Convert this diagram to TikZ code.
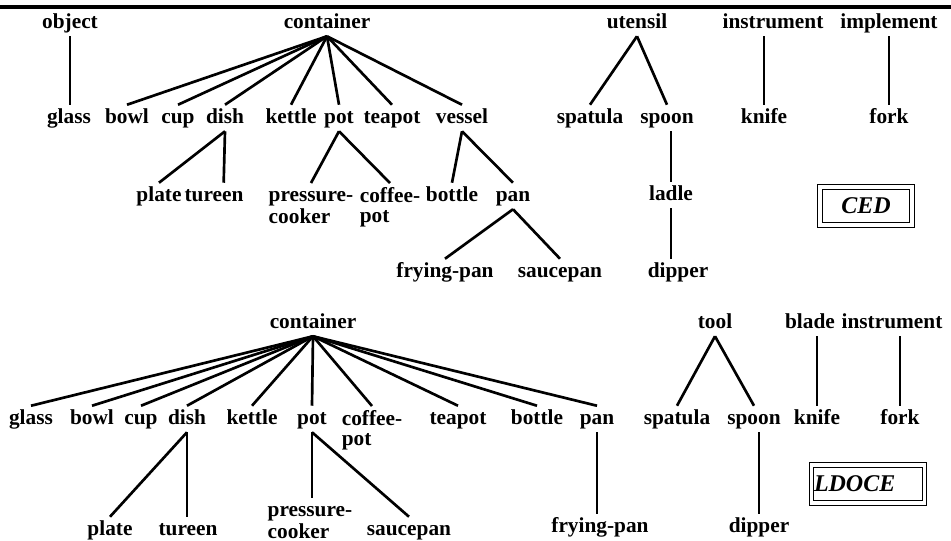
\documentclass[tikz,border=0pt]{standalone}
\usepackage{fontspec}
\setmainfont{Liberation Serif}
\tikzset{
	word/.style={font=\bfseries\fontsize{16}{15}\selectfont, text height=10.5pt, text depth=3pt, inner xsep=1pt, inner ysep=3pt, anchor=base},
	wordtwo/.style={font=\bfseries\fontsize{16}{15}\selectfont, align=left, inner xsep=1pt, inner ysep=3pt, anchor=north},
	dict/.style={draw, double, line width=0.9pt, double distance=2.4pt, minimum height=28.5pt, inner ysep=0pt, font=\bfseries\itshape\fontsize{18}{16}\selectfont},
	link/.style={line width=2pt}
}
\begin{document}
\begin{tikzpicture}[x=0.75pt,y=-0.75pt]
	\useasboundingbox (0,0) rectangle (951,540);
	\draw[line width=3pt] (0,7) -- (951,7);
	
	% CED
	\node[word] (objA) at (70,28) {object};
	\node[word] (ctrA) at (327,28) {container};
	\node[word] (utnA) at (637,28) {utensil};
	\node[word] (insA) at (773,28) {instrument};
	\node[word] (impA) at (889,28) {implement};
	
	\node[word] (glassA) at (69,123) {glass};
	\node[word] (bowlA) at (127,123) {bowl};
	\node[word] (cupA) at (178,123) {cup};
	\node[word] (dishA) at (225,123) {dish};
	\node[word] (ketA) at (291,123) {kettle};
	\node[word] (potA) at (339,123) {pot};
	\node[word] (teaA) at (392,123) {teapot};
	\node[word] (vesA) at (462,123) {vessel};
	\node[word] (spatA) at (590,123) {spatula};
	\node[word] (spoonA) at (667,123) {spoon};
	\node[word] (knifeA) at (764,123) {knife};
	\node[word] (forkA) at (889,123) {fork};
	
	\node[word] (plateA) at (159,201) {plate};
	\node[word] (turA) at (214,201) {tureen};
	\node[wordtwo] (presA) at (311,183) {\strut pressure-\\cooker};
	\node[wordtwo] (cofA) at (390,183) {\strut coffee-\\pot};
	\node[word] (botA) at (452,201) {bottle};
	\node[word] (panA) at (513,201) {pan};
	\node[word] (ladA) at (671,200) {ladle};
	\node[word] (fryA) at (445,277) {frying-pan};
	\node[word] (sauA) at (560,277) {saucepan};
	\node[word] (dipA) at (678,277) {dipper};
	
	\node[dict, minimum width=69pt] (ced) at (866,206) {CED};
	
	\draw[link] (objA.south) -- (objA.south |- glassA.north);
	\draw[link] (ctrA.south) -- (bowlA.north);
	\draw[link] (ctrA.south) -- (cupA.north);
	\draw[link] (ctrA.south) -- (dishA.north);
	\draw[link] (ctrA.south) -- (ketA.north);
	\draw[link] (ctrA.south) -- (potA.north);
	\draw[link] (ctrA.south) -- (teaA.north);
	\draw[link] (ctrA.south) -- (vesA.north);
	\draw[link] (dishA.south) -- (plateA.north);
	\draw[link] (dishA.south) -- ([xshift=-1pt]dishA.south |- turA.north);
	\draw[link] (potA.south) -- (presA.north);
	\draw[link] (potA.south) -- (cofA.north);
	\draw[link] (vesA.south) -- (botA.north);
	\draw[link] (vesA.south) -- (panA.north);
	\draw[link] (panA.south) -- (fryA.north);
	\draw[link] (panA.south) -- (sauA.north);
	\draw[link] (utnA.south) -- (spatA.north);
	\draw[link] (utnA.south) -- (spoonA.north);
	\draw[link] (ladA.north |- spoonA.south) -- (ladA.north);
	\draw[link] (ladA.south) -- (ladA.south |- dipA.north);
	\draw[link] (knifeA.north |- insA.south) -- (knifeA.north);
	\draw[link] (forkA.north |- impA.south) -- (forkA.north);
	
	% LDOCE
	\node[word] (ctrB) at (313,328) {container};
	\node[word] (toolB) at (715,328) {tool};
	\node[word] (bladeB) at (810,328) {blade};
	\node[word] (insB) at (892,328) {instrument};
	
	\node[word] (glassB) at (31,424) {glass};
	\node[word] (bowlB) at (92,424) {bowl};
	\node[word] (cupB) at (141,424) {cup};
	\node[word] (dishB) at (187,424) {dish};
	\node[word] (ketB) at (252,424) {kettle};
	\node[word] (potB) at (312,424) {pot};
	\node[wordtwo] (cofB) at (372,406) {\strut coffee-\\pot};
	\node[word] (teaB) at (458,424) {teapot};
	\node[word] (botB) at (537,424) {bottle};
	\node[word] (panB) at (597,424) {pan};
	\node[word] (spatB) at (677,424) {spatula};
	\node[word] (spoonB) at (754,424) {spoon};
	\node[word] (knifeB) at (817,424) {knife};
	\node[word] (forkB) at (900,424) {fork};
	
	\node[word] (plateB) at (110,535) {plate};
	\node[word] (turB) at (188,535) {tureen};
	\node[wordtwo] (presB) at (310,498) {\strut pressure-\\cooker};
	\node[word] (sauB) at (409,535) {saucepan};
	\node[word] (fryB) at (600,532) {frying-pan};
	\node[word] (dipB) at (759,532) {dipper};
	
	\node[dict, text width=81pt, align=left, inner xsep=2pt] (ldoce) at (868,484) {LDOCE};
	
	\draw[link] (ctrB.south) -- (glassB.north);
	\draw[link] (ctrB.south) -- (bowlB.north);
	\draw[link] (ctrB.south) -- (cupB.north);
	\draw[link] (ctrB.south) -- (dishB.north);
	\draw[link] (ctrB.south) -- (ketB.north);
	\draw[link] (ctrB.south) -- (potB.north);
	\draw[link] (ctrB.south) -- (cofB.north);
	\draw[link] (ctrB.south) -- (teaB.north);
	\draw[link] (ctrB.south) -- (botB.north);
	\draw[link] (ctrB.south) -- (panB.north);
	\draw[link] (dishB.south) -- (plateB.north);
	\draw[link] (dishB.south) -- (dishB.south |- turB.north);
	\draw[link] (potB.south) -- (potB.south |- presB.north);
	\draw[link] (potB.south) -- (sauB.north);
	\draw[link] (panB.south) -- (panB.south |- fryB.north);
	\draw[link] (toolB.south) -- (spatB.north);
	\draw[link] (toolB.south) -- (spoonB.north);
	\draw[link] (dipB.north |- spoonB.south) -- (dipB.north);
	\draw[link] (knifeB.north |- bladeB.south) -- (knifeB.north);
	\draw[link] (forkB.north |- insB.south) -- (forkB.north);
\end{tikzpicture}
\end{document}
